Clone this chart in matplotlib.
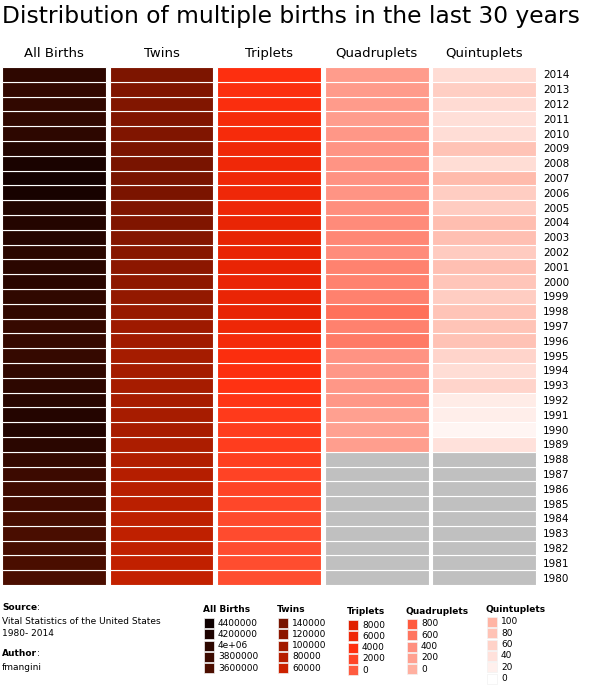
import numpy as np
import matplotlib
matplotlib.use('Agg')
import matplotlib.pyplot as plt
from matplotlib.colors import LinearSegmentedColormap, Normalize
from matplotlib.patches import Rectangle

plt.rcParams['font.family'] = ['DejaVu Sans']

years = list(range(1980, 2015))
columns = ['All Births', 'Twins', 'Triplets', 'Quadruplets', 'Quintuplets']

all_births = [3612258, 3629238, 3680537, 3638933, 3669141, 3760561, 3756547, 3809394, 3909510,
              4040958, 4158212, 4110907, 4065014, 4000240, 3952767, 3899589, 3891494, 3880894,
              3941553, 3959417, 4058814, 4025933, 4021726, 4089950, 4112052, 4138349, 4265555,
              4316233, 4247694, 4130665, 3999386, 3953590, 3952841, 3932181, 3988076]
twins = [68339, 70049, 71631, 72287, 72949, 77102, 79485, 81778, 85315,
         90118, 93865, 94779, 95372, 96445, 97064, 96736, 100750, 104137,
         110670, 114307, 118916, 121246, 125134, 128665, 132219, 133122, 137085,
         138961, 138660, 137217, 132562, 131269, 131024, 132324, 135336]
triplets = [1337, 1385, 1460, 1540, 1614, 1925, 2161, 2302, 2661,
            2798, 2830, 3121, 3547, 3834, 4233, 4551, 5298, 6148,
            6919, 6742, 6742, 6885, 6898, 7110, 6750, 6208, 6118,
            5967, 5877, 5905, 5153, 5137, 4598, 4364, 4233]
quadruplets = [None] * 9 + [229, 185, 203, 310, 315, 315, 365, 560, 510,
                            627, 512, 506, 501, 434, 468, 439, 418, 355,
                            369, 345, 355, 313, 239, 268, 260, 246]
quintuplets = [None] * 9 + [40, 13, 23, 26, 57, 46, 57, 81, 79,
                            79, 67, 77, 85, 69, 85, 86, 68, 67,
                            91, 46, 80, 45, 43, 48, 66, 47]

legend_ticks = [
    [4400000, 4200000, 4000000, 3800000, 3600000],
    [140000, 120000, 100000, 80000, 60000],
    [8000, 6000, 4000, 2000, 0],
    [800, 600, 400, 200, 0],
    [100, 80, 60, 40, 20, 0],
]
legend_labels = [
    ['4400000', '4200000', '4e+06', '3800000', '3600000'],
    ['140000', '120000', '100000', '80000', '60000'],
    ['8000', '6000', '4000', '2000', '0'],
    ['800', '600', '400', '200', '0'],
    ['100', '80', '60', '40', '20', '0'],
]

series = [all_births, twins, triplets, quadruplets, quintuplets]

# one colour scale per column
scales = [
    (LinearSegmentedColormap.from_list('ab', ['#4c0e00', '#0e0000']), Normalize(3600000, 4400000)),
    (LinearSegmentedColormap.from_list('tw', ['#cc2200', '#781400']), Normalize(60000, 140000)),
    (LinearSegmentedColormap.from_list('tr', ['#ff5c40', '#ff3010', '#e02000']), Normalize(0, 8000)),
    (LinearSegmentedColormap.from_list('qd', ['#ffb0a0', '#ff9080', '#ff5a3e']), Normalize(0, 800)),
    (LinearSegmentedColormap.from_list('qn', ['#ffffff', '#ffb4a4']), Normalize(0, 100)),
]
missing = '#c0c0c0'

W, H = 589, 686
fig = plt.figure(figsize=(W / 100, H / 100), dpi=100)

ax = fig.add_axes([2 / W, 1 - 585 / H, 538 / W, 518 / H])
for j, (vals, (cmap, norm)) in enumerate(zip(series, scales)):
    colors = [missing if v is None else cmap(norm(v)) for v in vals]
    ax.barh(years, 0.965, left=j, height=1.0, color=colors, edgecolor='white',
            linewidth=0.8, align='center')
ax.set_xlim(0, 5)
ax.set_ylim(years[0] - 0.5, years[-1] + 0.5)
for s in ax.spines.values():
    s.set_visible(False)
ax.yaxis.tick_right()
ax.set_yticks(years)
ax.set_yticklabels([str(y) for y in years], fontsize=7.5)
ax.tick_params(axis='y', length=0, pad=2)
ax.xaxis.tick_top()
ax.set_xticks(np.arange(5) + 0.4825)
ax.set_xticklabels(columns, fontsize=9.5)
ax.tick_params(axis='x', length=0, pad=5)

fig.text(2 / W, 1 - 17 / H, 'Distribution of multiple births in the last 30 years',
         fontsize=16.8, va='center', ha='left')

# overlay in pixel coordinates for footer and legends
ov = fig.add_axes([0, 0, 1, 1])
ov.set_xlim(0, W)
ov.set_ylim(H, 0)
ov.axis('off')

fs = 6.5
t = ov.text(2, 608, 'Source', fontsize=fs, fontweight='bold', va='center')
ov.annotate(':', xy=(1, 0.5), xycoords=t, va='center', fontsize=fs)
ov.text(2, 621, 'Vital Statistics of the United States', fontsize=fs, va='center')
ov.text(2, 633, '1980- 2014', fontsize=fs, va='center')
t = ov.text(2, 654, 'Author', fontsize=fs, fontweight='bold', va='center')
ov.annotate(':', xy=(1, 0.5), xycoords=t, va='center', fontsize=fs)
ov.text(2, 667, 'fmangini', fontsize=fs, va='center')

# legend layout: (x, title y, first row y)
legend_pos = [(203, 609, 623), (277, 609, 623), (347, 611, 625), (406, 611, 624), (486, 610, 622)]
row_step = 11.3
for j, (name, ticks, labels, (cmap, norm)) in enumerate(zip(columns, legend_ticks, legend_labels, scales)):
    x0, ty, ry = legend_pos[j]
    ov.text(x0, ty, name, fontsize=6.5, fontweight='bold', va='center')
    for k, (v, lab) in enumerate(zip(ticks, labels)):
        yc = ry + k * row_step
        ov.add_patch(Rectangle((x0 + 1, yc - 5), 10, 10, facecolor=cmap(norm(v)),
                               edgecolor='#f2f2f2', linewidth=0.5))
        ov.text(x0 + 15, yc, lab, fontsize=6.5, va='center')

fig.savefig('out.png', dpi=100)
